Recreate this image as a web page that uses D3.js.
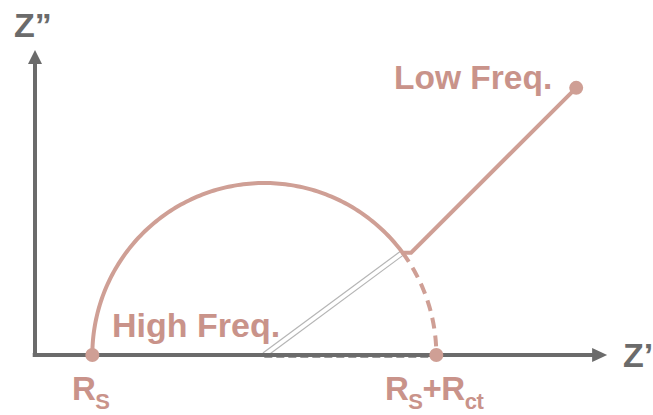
<!DOCTYPE html>
<html><head><meta charset="utf-8">
<script src="https://cdn.jsdelivr.net/npm/d3@7"></script>
<style>html,body{margin:0;padding:0;background:#fff}svg{display:block}</style>
</head><body>
<script>
// Nyquist plot data (arbitrary units)
const Rs = 1;                 // solution resistance
const Rct = 6;                // charge-transfer resistance
const kinkAngle = 36.5;       // degrees where Warburg tail starts
const warburgStart = [6.56, 1.785];
const warburgEnd = [9.44, 4.66];
const axisMax = [9.98, 5.32];
const labels = {yAxis: "Z\u201D", xAxis: "Z\u2019", low: "Low Freq.", high: "High Freq."};

const W = 653, H = 415;
const curveColor = "#cf9f95", textColor = "#c9938a", axisColor = "#6b6b6b";

const x = d3.scaleLinear().domain([0, 10]).range([35, 35 + 573.3]);
const y = d3.scaleLinear().domain([0, 10]).range([355, 355 - 573.3]);

const svg = d3.select("body").append("svg").attr("width", W).attr("height", H);

const center = Rs + Rct / 2, rad = Rct / 2;
const arcPt = a => [center + rad * Math.cos(a * Math.PI / 180), rad * Math.sin(a * Math.PI / 180)];
const line = d3.line().x(d => x(d[0])).y(d => y(d[1]));

// hollow radius line
const kink = arcPt(kinkAngle);
svg.append("path").attr("d", line([[center, 0], kink])).attr("stroke", "#b5b5b5").attr("stroke-width", 6).attr("fill", "none");
svg.append("path").attr("d", line([[center, 0], kink])).attr("stroke", "#fff").attr("stroke-width", 3.6).attr("fill", "none");

// dashed baseline under axis
svg.append("path").attr("d", line([[center, 0], [Rs + Rct, 0]])).attr("transform", "translate(0,2)")
  .attr("stroke", "#9a9a9a").attr("stroke-width", 2).attr("stroke-dasharray", "8,4").attr("fill", "none");

// axes
svg.append("line").attr("x1", x(-0.04)).attr("y1", y(0)).attr("x2", x(axisMax[0]) - 12).attr("y2", y(0))
  .attr("stroke", axisColor).attr("stroke-width", 4);
svg.append("line").attr("x1", x(0)).attr("y1", y(0)).attr("x2", x(0)).attr("y2", y(axisMax[1]) + 12)
  .attr("stroke", axisColor).attr("stroke-width", 4);
const xa = x(axisMax[0]), ya = y(axisMax[1]);
svg.append("path").attr("d", `M${xa},${y(0)} L${xa - 15},${y(0) - 7} L${xa - 15},${y(0) + 7} Z`).attr("fill", axisColor);
svg.append("path").attr("d", `M${x(0)},${ya} L${x(0) - 7},${ya + 14} L${x(0) + 7},${ya + 14} Z`).attr("fill", axisColor);

// solid arc
const solid = d3.range(180, kinkAngle - 0.01, -1).concat([kinkAngle]).map(arcPt);
svg.append("path").attr("d", line(solid.concat([warburgStart, warburgEnd])))
  .attr("stroke", curveColor).attr("stroke-width", 4).attr("fill", "none").attr("stroke-linejoin", "miter");
// dashed arc
const dashed = d3.range(kinkAngle, -0.01, -1).concat([0]).map(arcPt);
svg.append("path").attr("d", line(dashed)).attr("stroke", curveColor).attr("stroke-width", 4)
  .attr("stroke-dasharray", "11,7").attr("fill", "none");

// points
[[Rs, 0], [Rs + Rct, 0], warburgEnd].forEach(p =>
  svg.append("circle").attr("cx", x(p[0])).attr("cy", y(p[1])).attr("r", 7).attr("fill", curveColor));

const font = "Liberation Sans, Arial, sans-serif";
const txt = (t, px, py, size, col, anchor) => svg.append("text").attr("x", px).attr("y", py)
  .attr("font-family", font).attr("font-weight", "bold").attr("font-size", size).attr("fill", col)
  .attr("text-anchor", anchor || "start").text(t);

txt(labels.yAxis, 14, 37, 34, axisColor);
txt(labels.xAxis, 623, 367, 34, axisColor);
txt(labels.low, 394, 89, 33.5, textColor);
txt(labels.high, 112, 337, 34, textColor);

// subscripted labels
const sub = (parts, px, py) => {
  const t = svg.append("text").attr("x", px).attr("y", py).attr("font-family", font)
    .attr("font-weight", "bold").attr("fill", textColor).attr("letter-spacing", -0.5);
  parts.forEach(p => t.append("tspan").attr("font-size", p[1] ? 22 : 33)
    .attr("dy", p[2] || 0).text(p[0]));
};
sub([["R", 0], ["S", 1, 9]], 72, 400);
sub([["R", 0], ["S", 1, 9], ["+", 0, -9], ["R", 0], ["ct", 1, 9]], 385, 400);
</script>
</body></html>
